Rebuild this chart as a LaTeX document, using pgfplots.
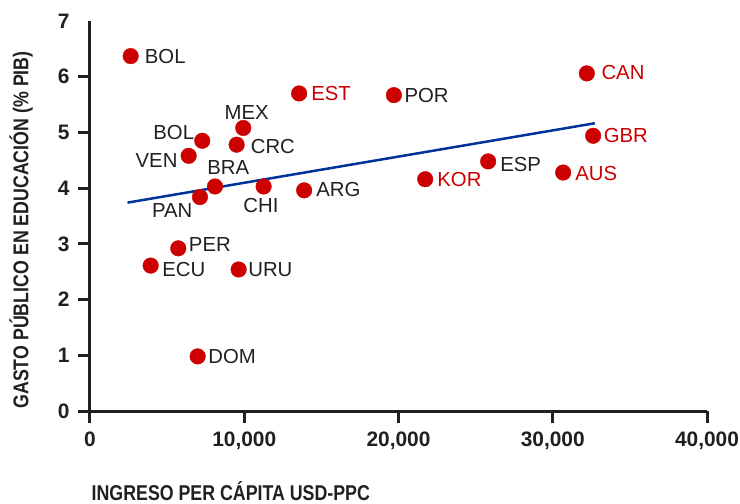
\documentclass[border=0pt]{standalone}
\usepackage{pgfplots}
\pgfplotsset{compat=1.18}
\usepackage{fontspec}
\setmainfont{Liberation Sans}
\newfontfamily\condfont{Liberation Sans}[FakeStretch=0.83]
\definecolor{dotred}{RGB}{204,0,0}
\definecolor{lineblue}{RGB}{0,51,153}
\definecolor{txt}{RGB}{35,31,32}
\tikzset{lab/.style={inner sep=0pt, font=\fontsize{20.4}{24}\selectfont, text=txt},
  labr/.style={lab, text=dotred}}
\begin{document}
\begin{tikzpicture}
\begin{axis}[
  scale only axis, width=617bp, height=390bp,
  xmin=0, xmax=40000, ymin=0, ymax=7,
  axis lines=left,
  axis line style={-, line width=3bp, draw=txt},
  xtick={0,10000,20000,30000,40000},
  ytick={0,1,2,3,4,5,6},
  extra y ticks={7},
  extra y tick style={major tick length=0pt, yticklabel style={xshift=-12bp}},
  tick align=outside, major tick length=12bp,
  tick style={line width=3bp, draw=txt},
  scaled ticks=false,
  /pgf/number format/1000 sep={,},
  /pgf/number format/assume math mode=true,
  tick label style={font=\fontsize{21}{21}\selectfont\bfseries, text=txt},
  xticklabel style={yshift=-5bp},
  yticklabel style={xshift=-5bp},
  xlabel={\condfont\bfseries INGRESO PER CÁPITA USD-PPC},
  xlabel style={at={(axis description cs:0,0)}, anchor=base west, inner sep=0pt, xshift=1.5bp, yshift=-89.5bp, font=\fontsize{21.5}{22}\selectfont, text=txt},
  ylabel={\condfont\bfseries GASTO PÚBLICO EN EDUCACIÓN (\% PIB)},
  ylabel style={at={(axis description cs:-0.1118,0.4641)}, anchor=center, inner sep=0pt, font=\fontsize{21.5}{22}\selectfont, text=txt},
  clip=false,
]
\addplot[lineblue, line width=2.5bp] coordinates {(2430,3.74) (32730,5.165)};
\addplot[only marks, mark=*, mark size=7.8bp, color=dotred] coordinates {
(2638,6.37) (7278,4.85) (6397,4.58) (9935,5.08) (9508,4.78) (8101,4.03)
(7129,3.84) (11257,4.03) (13882,3.96) (13558,5.70) (19702,5.67) (32210,6.06)
(32618,4.94) (25813,4.48) (30674,4.28) (21731,4.16) (5723,2.92) (3934,2.61)
(9637,2.54) (6980,0.98)
};
% right-hand labels
\node[lab, anchor=west, xshift=14bp] at (axis cs:2638,6.37) {BOL};
\node[lab, anchor=west, xshift=14bp, yshift=-1.7bp] at (axis cs:9508,4.78) {CRC};
\node[labr, anchor=west, xshift=12bp] at (axis cs:13558,5.70) {EST};
\node[lab, anchor=west, xshift=10.5bp, yshift=-0.8bp] at (axis cs:19702,5.67) {POR};
\node[lab, anchor=west, xshift=12bp, yshift=1bp] at (axis cs:13882,3.96) {ARG};
\node[labr, anchor=west, xshift=12bp, yshift=-0.7bp] at (axis cs:21731,4.16) {KOR};
\node[lab, anchor=west, xshift=12bp, yshift=-3.3bp] at (axis cs:25813,4.48) {ESP};
\node[labr, anchor=west, xshift=12bp, yshift=-1bp] at (axis cs:30674,4.28) {AUS};
\node[labr, anchor=west, xshift=14.5bp, yshift=1bp] at (axis cs:32210,6.06) {CAN};
\node[labr, anchor=west, xshift=10.5bp] at (axis cs:32618,4.94) {GBR};
\node[lab, anchor=west, xshift=10.5bp, yshift=4bp] at (axis cs:5723,2.92) {PER};
\node[lab, anchor=west, xshift=11.5bp, yshift=-4bp] at (axis cs:3934,2.61) {ECU};
\node[lab, anchor=west, xshift=9.5bp] at (axis cs:9637,2.54) {URU};
\node[lab, anchor=west, xshift=10.5bp] at (axis cs:6980,0.98) {DOM};
% other labels
\node[lab, anchor=east, xshift=-8bp, yshift=8.2bp] at (axis cs:7278,4.85) {BOL};
\node[lab, anchor=east, xshift=-11bp, yshift=-4.5bp] at (axis cs:6397,4.58) {VEN};
\node[lab, anchor=center, xshift=3.4bp, yshift=15.8bp] at (axis cs:9935,5.08) {MEX};
\node[lab, anchor=center, xshift=13.3bp, yshift=19.2bp] at (axis cs:8101,4.03) {BRA};
\node[lab, anchor=center, xshift=-27.8bp, yshift=-13.5bp] at (axis cs:7129,3.84) {PAN};
\node[lab, anchor=center, xshift=-2.7bp, yshift=-19.1bp] at (axis cs:11257,4.03) {CHI};
\end{axis}
\pgfresetboundingbox
\path[use as bounding box] (-90bp,-93bp) rectangle (650bp,411bp);
\end{tikzpicture}
\end{document}
